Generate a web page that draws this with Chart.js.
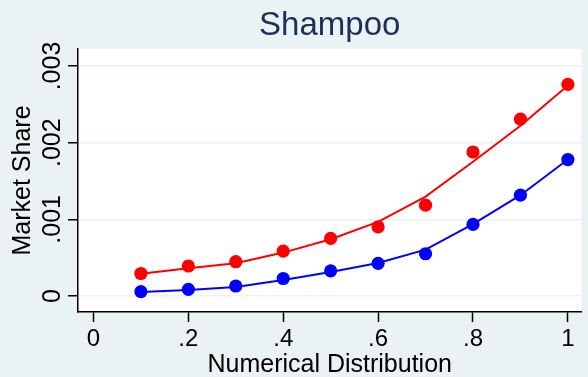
<!DOCTYPE html>
<html><head><meta charset="utf-8">
<script src="https://cdn.jsdelivr.net/npm/chart.js@4"></script>
<style>html,body{margin:0;padding:0;background:#EAF2F3;overflow:hidden}#wrap{width:588px;height:377px;position:relative}canvas{display:block}</style>
</head><body><div id="wrap"><canvas id="c" width="588" height="377"></canvas></div>
<script>
// ---- data ----
const distribution = [0.1, 0.2, 0.3, 0.4, 0.5, 0.6, 0.7, 0.8, 0.9, 1.0];
const redShare  = [0.000293, 0.000391, 0.000447, 0.000586, 0.000751, 0.000901, 0.001185, 0.001878, 0.002307, 0.002760];
const redFit    = [0.000289, 0.000362, 0.000428, 0.000566, 0.000740, 0.000967, 0.001296, 0.001751, 0.002220, 0.002747];
const blueShare = [0.000056, 0.000087, 0.000130, 0.000228, 0.000328, 0.000426, 0.000551, 0.000934, 0.001315, 0.001780];
const blueFit   = [0.000052, 0.000078, 0.000117, 0.000208, 0.000312, 0.000430, 0.000605, 0.000938, 0.001315, 0.001780];
const xTicks = [0, 0.2, 0.4, 0.6, 0.8, 1];
const xTickLabels = ["0", ".2", ".4", ".6", ".8", "1"];
const yTicks = [0, 0.001, 0.002, 0.003];
const yTickLabels = ["0", ".001", ".002", ".003"];
const chartTitle = "Shampoo";
const xTitle = "Numerical Distribution";
const yTitle = "Market Share";

const FONT = "'Liberation Sans', Arial, Helvetica, sans-serif";
const BG = "#EAF2F3";

const pts = (ys) => distribution.map((x, i) => ({x: x, y: ys[i]}));

const bgPlugin = {
  id: 'stataBg',
  beforeDraw(chart) {
    const {ctx, chartArea: a} = chart;
    ctx.save();
    ctx.fillStyle = BG;
    ctx.fillRect(0, 0, chart.width, chart.height);
    ctx.fillStyle = '#FFFFFF';
    ctx.fillRect(a.left, a.top, a.right - a.left, a.bottom - a.top);
    ctx.restore();
  }
};

const yLabelPlugin = {
  id: 'rotYLabels',
  afterDraw(chart) {
    const {ctx} = chart;
    const ys = chart.scales.y;
    ctx.save();
    ctx.font = "25px " + FONT;
    ctx.fillStyle = '#000000';
    ctx.textAlign = 'center';
    ctx.textBaseline = 'alphabetic';
    yTicks.forEach((v, i) => {
      const py = ys.getPixelForValue(v);
      ctx.save();
      ctx.translate(59.5, py);
      ctx.rotate(-Math.PI / 2);
      ctx.fillText(yTickLabels[i], 0, 0);
      ctx.restore();
    });
    ctx.restore();
  }
};

new Chart(document.getElementById('c'), {
  type: 'scatter',
  data: {
    datasets: [
      {data: pts(redFit), showLine: true, pointRadius: 0, borderColor: '#FF0000', borderWidth: 2, tension: 0, fill: false},
      {data: pts(blueFit), showLine: true, pointRadius: 0, borderColor: '#0000FF', borderWidth: 2, tension: 0, fill: false},
      {data: pts(redShare), showLine: false, pointRadius: 6.6, pointBackgroundColor: '#FF0000', pointBorderWidth: 0, backgroundColor: '#FF0000', borderColor: '#FF0000'},
      {data: pts(blueShare), showLine: false, pointRadius: 6.6, pointBackgroundColor: '#0000FF', pointBorderWidth: 0, backgroundColor: '#0000FF', borderColor: '#0000FF'}
    ]
  },
  options: {
    responsive: false,
    devicePixelRatio: 1,
    animation: false,
    events: [],
    layout: {padding: 0},
    plugins: {
      legend: {display: false},
      tooltip: {enabled: false},
      title: {
        display: true, text: chartTitle, fullSize: false,
        color: '#1C2F58',
        font: {family: FONT, size: 33, weight: 'normal', lineHeight: 1},
        padding: {top: 9, bottom: 7}
      }
    },
    scales: {
      x: {
        type: 'linear', position: 'bottom',
        min: -0.0326, max: 1.0285,
        afterBuildTicks: (s) => { s.ticks = xTicks.map(v => ({value: v})); },
        afterFit: (s) => { s.height = 65; },
        ticks: {
          color: '#000000', padding: 3, maxRotation: 0, minRotation: 0,
          font: {family: FONT, size: 24},
          callback: (v) => xTickLabels[xTicks.indexOf(v)]
        },
        grid: {drawOnChartArea: false, drawTicks: true, tickLength: 10, tickColor: '#000000', tickWidth: 1.5},
        border: {display: true, color: '#000000', width: 1.5},
        title: {display: true, text: xTitle, color: '#000000', font: {family: FONT, size: 25, lineHeight: 0.92}, padding: {top: 0, bottom: 0}}
      },
      y: {
        type: 'linear', position: 'left',
        min: -0.000209, max: 0.003222,
        afterBuildTicks: (s) => { s.ticks = yTicks.map(v => ({value: v})); },
        afterFit: (s) => { s.width = 78; },
        ticks: {display: false},
        grid: {drawOnChartArea: true, color: BG, lineWidth: 1.5, drawTicks: true, tickLength: 10, tickColor: '#000000', tickWidth: 1.5},
        border: {display: true, color: '#000000', width: 1.5},
        title: {display: true, text: yTitle, color: '#000000', font: {family: FONT, size: 25, lineHeight: 1}, padding: {top: 11, bottom: 0}}
      }
    }
  },
  plugins: [bgPlugin, yLabelPlugin]
});
</script>
</body></html>
